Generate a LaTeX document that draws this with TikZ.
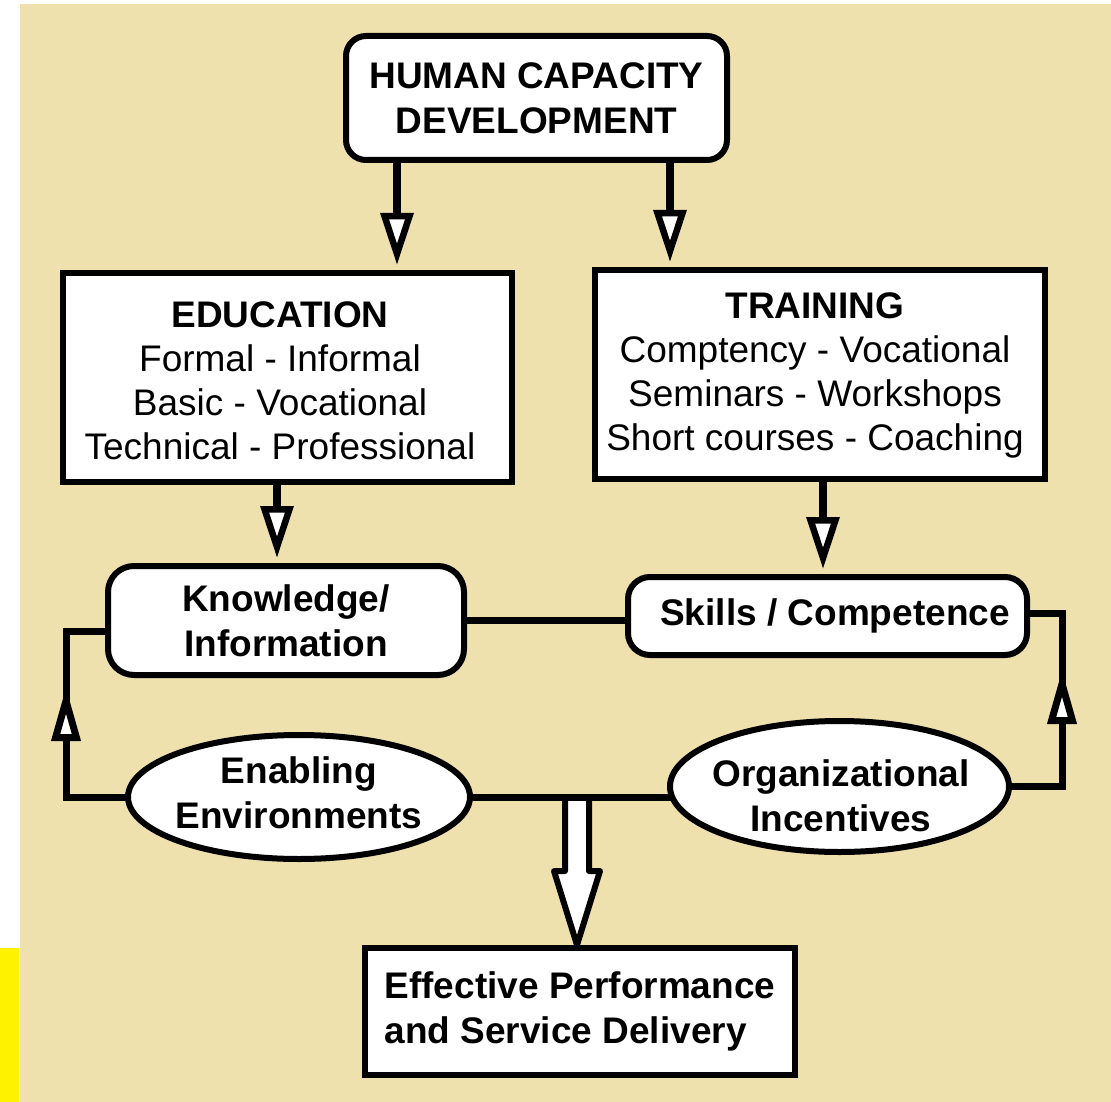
\documentclass[tikz,border=0pt]{standalone}
\usepackage{fontspec}
\setmainfont{Liberation Sans}
\usetikzlibrary{arrows.meta,shapes.geometric}
\definecolor{parchment}{RGB}{238,225,174}

\begin{document}
\begin{tikzpicture}[x=1pt,y=-1pt,
  lbl/.style={font=\fontsize{37}{45}\selectfont\bfseries, align=center},
  txt/.style={font=\fontsize{37}{44}\selectfont, align=center},
  box/.style={draw, fill=white, line width=6pt, rectangle},
  softbox/.style={box, rounded corners=26pt},
  oval/.style={draw, fill=white, line width=6pt, ellipse},
  link/.style={line width=7pt},
  down/.style={line width=8pt, shorten >=5pt, -{Triangle[fill=white, line width=6.5pt, length=52pt, width=32pt]}},
  up/.style={line width=7pt, -{Triangle[fill=white, line width=7pt, length=54pt, width=28pt]}},
  hollow/.style={line width=6pt, fill=white, line join=round}]
 \useasboundingbox (0,0) rectangle (1111,1102);
 \fill[white] (0,0) rectangle (1111,1102);
 \fill[parchment] (20,4) rectangle (1111,1102);
 \fill[yellow] (0,948) rectangle (19,1102);

 % boxes
 \node[box, rounded corners=20pt, lbl, minimum width=381pt, minimum height=124pt] (hcd) at (536.5,98) {HUMAN CAPACITY\\DEVELOPMENT};
 \node[box, txt, minimum width=449pt, minimum height=209pt] (edu) at (287.5,377.5) {};
 \node[txt] (edu_t) at (280,381) {{\bfseries EDUCATION}\\Formal - Informal\\Basic - Vocational\\Technical - Professional};
 \node[box, txt, minimum width=450pt, minimum height=209pt] (trn) at (820,374.5) {};
 \node[txt] (trn_t) at (815,375) {{\bfseries TRAINING}\\Comptency - Vocational\\Seminars - Workshops\\Short courses - Coaching};
 \node[softbox, lbl, minimum width=356pt, minimum height=109pt] (know) at (286,620.5) {Knowledge/\\Information};
 \node[softbox, lbl, rounded corners=22pt, minimum width=399pt, minimum height=78pt] (skill) at (827.5,616) {};
 \node[lbl] (skill_t) at (835,616) {Skills / Competence};
 \node[oval, minimum width=342pt, minimum height=124pt] (enab) at (299,797) {};
 \node[lbl] (enab_t) at (299,793) {Enabling\\Environments};
 \node[oval, minimum width=339pt, minimum height=131pt] (org) at (839.5,786.5) {};
 \node[lbl] (org_t) at (841,796) {Organizational\\Incentives};
 \node[box, lbl, align=left, minimum width=430pt, minimum height=127pt] (perf) at (580,1011.5) {Effective Performance\\and Service Delivery};

 % arrows down
 \coordinate (a_edu) at (397,0);
 \coordinate (a_trn) at (670,0);
 \coordinate (a_know) at (277,0);
 \coordinate (a_skill) at (823,0);
 \draw[down] (hcd.south -| a_edu) -- (edu.north -| a_edu);
 \draw[down] (hcd.south -| a_trn) -- (trn.north -| a_trn);
 \draw[down] (edu.south -| a_know) -- (know.north -| a_know);
 \draw[down] (trn.south -| a_skill) -- (skill.north -| a_skill);

 % side loops
 \coordinate (l_turn) at (66,631);
 \coordinate (l_tip) at (66,687);
 \coordinate (r_turn) at (1062,613);
 \coordinate (r_tip) at (1062,670);
 \draw[link] (enab.west) -| (l_turn) -- (l_turn -| know.west);
 \draw[up] (enab.west -| l_turn) -- (l_tip);
 \draw[link] (org.east) -| (r_turn) -- (r_turn -| skill.east);
 \draw[up] (org.east -| r_turn) -- (r_tip);

 % middle links and output arrow
 \coordinate (split) at (577,797);
 \coordinate (headbase) at (577,871);
 \draw[hollow] ([xshift=-12pt]split) -- ([xshift=-12pt]headbase) -- ([xshift=-23pt]headbase)
   -- (headbase |- perf.north) -- ([xshift=23pt]headbase) -- ([xshift=12pt]headbase) -- ([xshift=12pt]split);
 \draw[link] (know.east) -- (know.east -| skill.west);
 \draw[link] (enab.east) -- ([xshift=6pt]enab.east -| org.west);
\end{tikzpicture}
\end{document}
